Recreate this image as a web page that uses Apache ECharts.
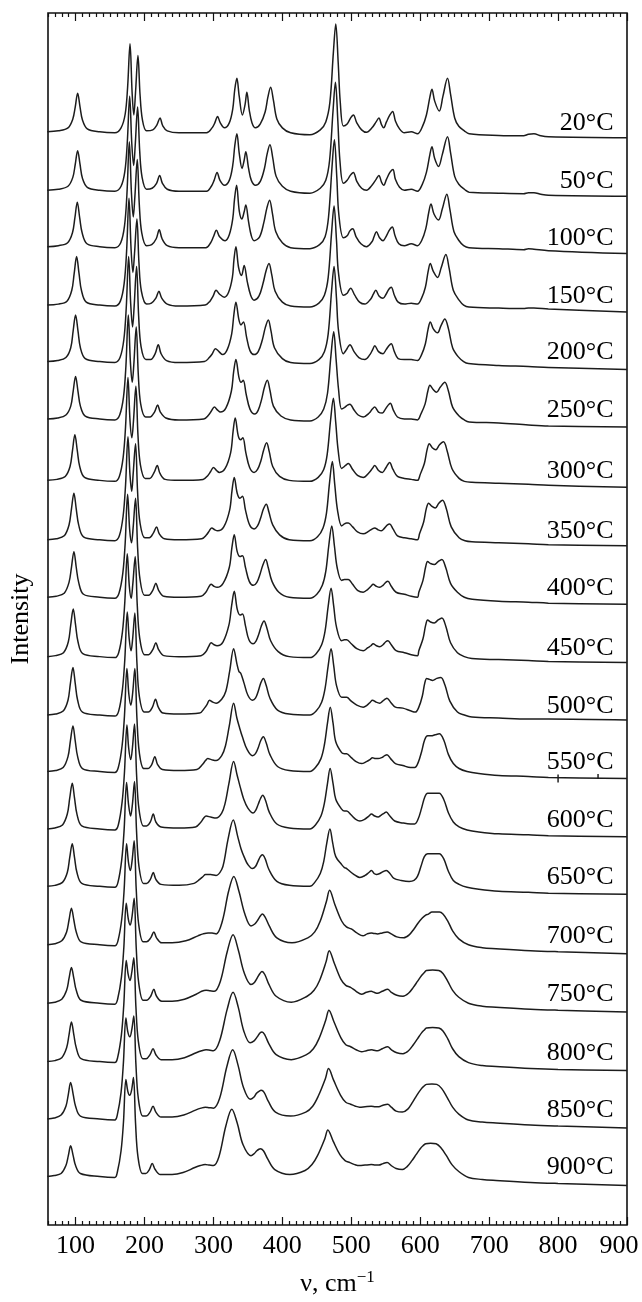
<!DOCTYPE html>
<html>
<head>
<meta charset="utf-8">
<script src="https://cdn.jsdelivr.net/npm/echarts@6/dist/echarts.min.js"></script>
<style>
  html, body { margin: 0; padding: 0; background: #fff; }
  #chart { width: 642px; height: 1302px; }
</style>
</head>
<body>
<div id="chart"></div>
<script>
// temperature of each spectrum, top to bottom
var temps = ['20°C', '50°C', '100°C', '150°C', '200°C', '250°C', '300°C', '350°C', '400°C', '450°C',
  '500°C', '550°C', '600°C', '650°C', '700°C', '750°C', '800°C', '850°C', '900°C'];
// baseline of each spectrum, pixel row
var baselines = [133, 192, 249, 308, 365, 423, 485, 545, 603, 663, 722, 779, 837, 895, 954, 1013, 1072, 1130, 1188];
var majorTicks = [100, 200, 300, 400, 500, 600, 700, 800, 900];
var strayTicks = [[800, 451, 8], [858, 453, 5]];

// [wavenumber, height above baseline]
var t20 = [[59,0],[75,1],[89,4],[96,13],[99.5,25],[103,39],[106.5,25],[110,12],[117,3],[135,0],[157,-1],
  [166,4],[172,18],[175.5,45],[179,89],[182,40],[184.5,17],[187,40],[190.5,77],[193.5,38],[197,12],[203,1],
  [212,2],[218,7],[222.5,14],[226.5,6],[233,1],[250,-1],[290,-1],
  [298,4],[302,9],[306,15.5],[310,9],[316,4],[323,9],[328,23],[331,43],[334,54],[337.4,36],[342,17],[346,28],[348.5,40],[352,22],[356,9],[361,4],[368,8],[375,20],[379,35],[383,45],[387,32],[392,13],[400,4],[412,-1],[440,-3],
  [455,2],[463,10],[469,30],[474,80],[477.5,109],[481,70],[484,30],[488.5,6],[494,8],[499,14],[503,17],[508,9],[515,2],[522,-0.5],[530,4],[536,10],[540,14],[544,7],[547,4],[551,10],[556,17],[560,20.6],[564,11],[570,3],[577,-1],[587,0],[596,-2],
  [603,5],[609,17],[614,35],[617,43],[621,31],[627.6,21],[633,36],[639.6,54],[644,38],[650,14],[656,5.6],[664,1],[671,-2],[714,-3.7],[750,-4],[757,-2.5],[765,-2],[775,-4],[786,-5],[900,-6]];
var t50 = [[59,0],[75,1],[89,4],[96,13],[99.5,26],[103,40],[106.5,26],[110,12],[117,3],[135,0],[157,-1],
  [166,4],[171.5,19],[175,48],[178.5,95],[181.5,48],[184.3,25],[186.5,45],[190,84],[193,40],[196.5,13],[203,1],
  [211,2],[217.5,7],[222,15],[226,7],[233,1],[250,-1],[290,-1],
  [297,4],[301,10],[305.3,18],[309.5,10],[316,5],[323,10],[328,25],[331,45],[334,57],[337.5,37],[341.5,22],[344.5,30],[347,39],[351,22],[355,10],[361,5],[368,9],[374,22],[378,37],[382,46],[386,33],[391,14],[400,4],[412,-1],[440,-3],
  [455,2],[463,10],[468.5,30],[473.5,80],[477,109],[480.5,70],[483.5,30],[488.5,7],[494,10],[498.5,15],[503,18],[508,9],[515,2],[522,0],[530,5],[536,11],[540,15],[544,8],[547,5],[551,11],[556,18],[560.4,21],[564,11],[570,3],[577,0],[587,1],[596,-1],
  [603,6],[609,18],[614,36],[617,44],[621,32],[626.6,24],[632,36],[639.6,54],[644,38],[650,14],[656,6],[664,1],[671,-2],[714,-3],[750,-3.5],[757,-2.5],[765,-2.5],[775,-4],[786,-5],[900,-6]];
var t100 = [[59,0],[75,1],[88.5,4],[95.5,14],[99,29],[102.5,45],[106,29],[109.5,14],[116.5,3],[135,0],[157,-1],
  [165.5,4],[171,21],[174.5,53],[178,106],[181,55],[183.7,30],[186,50],[189.5,88],[192.5,42],[196,14],[203,1],
  [210.5,2],[217,8],[221.4,17],[225.5,8],[233,1],[250,-1],[289,-1],
  [296,4],[300,10],[304.3,16.7],[309,10],[317,6],[323,12],[328,28],[330.6,48],[333.6,62],[337.5,36],[341.3,28],[344.5,35],[347,42],[351,25],[355,11],[359,6],[367,10],[373,24],[377.5,39],[381.5,47],[385.5,34],[390.5,15],[400,4],[412,-1],[440,-2],
  [454,2],[462,10],[467,30],[472,80],[475.5,108],[479,70],[482,32],[488.5,9],[494,11],[498,16],[502,18],[507,10],[514,3],[522,0],[530,5],[533,10],[536.4,15],[541,9],[546,6],[551,11],[555.5,17],[559.5,20],[563.5,11],[569,3],[577,1],[587,3],[596,1],
  [602,6],[608,18],[612.5,35],[615.6,43],[620,33],[626.6,27],[632,38],[638.6,53],[643,38],[649,15],[656.4,6],[663,1],[670.7,-1],[714,-2],[750,-3],[757,-2],[765,-2.5],[786,-4],[900,-7]];
var t150 = [[59,0],[75,1],[87.5,4],[94.5,15],[98,32],[101.5,49],[105,32],[108.5,15],[115.5,3],[135,0],[157,-1],
  [165,4],[170.5,22],[174,54],[177.5,108],[180.5,57],[183.2,33],[185.5,52],[189,87],[192,42],[195.5,14],[203,1],
  [210,2],[216.5,7],[220.9,14],[225,7],[233,1],[250,-1],[288,0],
  [295,4],[299.5,9],[303.8,15],[309,11],[315.8,8],[322,13],[327.5,28],[329.8,46],[332.6,59],[336.5,38],[340.8,30],[344.6,40],[349,24],[354,10],[359,5],[366,9],[372,22],[376.5,35],[380.6,42],[384.5,31],[389.5,14],[400,3],[412,-1],[440,-2],
  [453,2],[461,10],[466.5,28],[471.5,74],[475,100],[478.5,66],[481.5,32],[488.5,10],[494,12],[496.5,15],[499,17],[505,10],[512,3],[519.7,1],[528,6],[532,11],[535.5,15],[540.5,9],[546,7],[550.5,11],[554.5,16],[558,18],[562.5,10],[568,3],[577,1],[587,2],[596,1],
  [602,7],[607.5,18],[611.5,34],[614.6,42],[619,34],[625.2,28],[630.5,38],[637.2,51],[642,37],[648,15],[656.4,5],[663,0],[670.7,-2],[714,-3],[750,-3.5],[757,-3],[765,-3],[786,-4],[900,-7]];
var t200 = [[59,0],[74,1],[86,4],[93,14],[96.5,31],[100,47],[103.5,31],[107,14],[114,3],[135,0],[157,-1],
  [164.5,4],[170,22],[173.5,54],[177,106],[180,58],[182.7,35],[185,56],[188.5,96],[191.5,46],[195,15],[202,2],
  [209,2],[215.5,8],[220,17],[224,8],[232,1],[250,-1],[287,0],
  [294,4],[298.5,8],[302.9,13],[308,10],[313.4,7],[320,12],[326.5,28],[329.6,47],[332.6,60],[337,42],[340,37],[343.6,40],[348,25],[353,11],[359,7],[365,10],[371,22],[375.5,35],[379.6,42],[383.5,31],[388.5,14],[400,3],[412,-1],[440,-2],
  [453,2],[461,10],[466.5,28],[471.5,72],[475,96],[478.5,64],[481.5,31],[488.5,8],[493,12],[495.5,15],[498,17],[504,10],[511,4],[519.7,2],[527,7],[531,12],[534,16],[539.5,10],[546,8],[550.5,12],[554.5,16],[558,18],[562.5,10],[568,3],[577,2],[587,2],[596,1],
  [602,7],[607.5,18],[611.5,33],[614.6,40],[619,33],[625.2,29],[630,36],[635.7,43],[641,33],[647,14],[655,5],[663,0],[670,-2],[714,-4],[757,-5],[786,-6],[900,-8]];
var t250 = [[59,0],[74,1],[86,4],[93,13],[96.5,28],[100,43],[103.5,28],[107,13],[114,3],[135,0],[157,-1],
  [164,4],[169.5,22],[173,53],[176.5,105],[179.5,58],[182.2,37],[184.5,55],[188,93],[191,45],[194.5,15],[201.5,2],
  [208,2],[214.5,7],[219,14],[223,7],[231,1],[250,-1],[286,0],
  [293,4],[297,8],[301.4,12],[306,9],[310,7],[318,11],[326,28],[329.4,48],[332.6,60],[337,42],[340,37],[343.2,39],[347.5,25],[353,10],[359.9,5],[365,9],[370,20],[374,32],[378.2,39],[382,29],[387,13],[398,3],[412,-1],[440,-2],
  [452,2],[460,10],[465.5,26],[470.5,64],[474.5,88],[478,60],[481.5,30],[486,10],[491,12],[494.5,14],[498,15],[504,9],[510,4],[517.3,2],[526,6],[530.5,10],[534,12],[539.5,7],[545.1,6],[549.5,10],[553.5,14],[556.6,16],[561,9],[567,2],[577,0],[587,0],[596,-1],
  [601,5],[607,15],[611,28],[614.1,34],[618.5,30],[623.7,27],[629,32],[635.7,37],[641,28],[647,12],[656.4,3],[664,-1],[671,-3],[714,-4],[757,-6],[786,-7],[900,-8]];
var t300 = [[59,0],[73,1],[85,4],[92,14],[95.5,30],[99,46],[102.5,30],[106,14],[113,3],[135,0],[157,-1],
  [163.5,4],[169,23],[172.5,54],[176,104],[179,60],[181.7,43],[184,60],[187.5,95],[190.5,46],[194,16],[201,2],
  [207.5,2],[214,8],[218.5,15],[222.5,7],[230,1],[250,0],[285,1],
  [292,5],[296,9],[300,13],[304.5,10],[308.6,8],[317,12],[325,28],[328.6,50],[331.6,63],[336,45],[339.5,41],[342.7,43],[347,28],[352.5,13],[359,8],[364,11],[369,20],[373,31],[377.2,38],[381,29],[386,14],[396,4],[410,0],[440,-1],
  [452,3],[460,11],[465,26],[470,61],[474,83],[477.5,58],[481,30],[486,12],[490,14],[493,16],[495.7,17],[502,11],[509,5],[517.3,3],[526,8],[530.5,12],[534,15],[539.5,10],[545.1,8],[549.5,12],[553,16],[555.6,18],[560.5,11],[567,4],[577,2],[587,1],[596,0],
  [600,6],[606,17],[610,31],[613.2,37],[617.5,33],[622.8,31],[628,36],[633.8,39],[639,30],[646,12],[656.4,2],[664,-1],[675,-2],[714,-3],[757,-4],[786,-5],[900,-7]];
var t350 = [[59,0],[72,1],[83.5,4],[90.5,15],[94,31],[97.6,47],[101,31],[104.5,15],[111.5,3],[135,0],[157,-1],
  [163.5,4],[169,24],[172.5,55],[176,104],[179,65],[181.5,49],[183.5,66],[187,97],[190,48],[193.5,17],[200.5,2],
  [207,2],[213,7],[217.5,13],[221.5,6],[229,1],[250,0],[283,1],
  [290,5],[294,9],[297.6,12],[302,10],[306.2,9],[315,13],[323.5,30],[327,50],[330.2,63],[334.5,47],[338.5,42],[342.2,44],[346.5,30],[352.5,15],[359,11],[364,14],[368.5,22],[372.5,31],[376.7,36],[380.5,28],[386,15],[396,5],[410,0],[440,-1],
  [451,3],[459,12],[464,27],[468.5,58],[472.5,79],[476,56],[480,30],[486,14],[490,16],[493,17],[495.7,17],[502,13],[509,8],[517.3,6],[526,9],[530.5,11],[534,12],[539,10],[543.6,9],[548.5,12],[552.5,15],[555.6,16],[560.5,11],[567,4],[577,2],[587,1],[596,0],
  [599,6],[605,18],[609,32],[612.2,37],[616.5,34],[621.8,32],[627,37],[632.4,40],[638,31],[645,13],[656.4,2],[665,-1],[675,-2],[714,-3],[757,-4],[786,-5],[900,-6]];
var t400 = [[59,0],[72,1],[83.5,4],[90.5,15],[94,30],[97.6,46],[101,30],[104.5,15],[111.5,3],[135,0],[157,-1],
  [163,4],[168.5,24],[172,55],[175.5,104],[178.5,68],[181.2,55],[183.5,70],[187,100],[190,50],[193.5,18],[200,2],
  [206,2],[212,7],[216.5,14],[220.5,7],[228,1],[250,0],[282,1],
  [289,5],[293,10],[296.6,13],[301,11],[305.3,10],[314,14],[323,30],[326.8,50],[330.2,63],[334.5,46],[338.5,41],[342.2,42],[346.5,30],[352,16],[358,12],[363,15],[367.5,23],[371.5,32],[375.8,38],[379.5,30],[385,16],[395,5],[410,0],[440,-1],
  [450,3],[458,12],[463,26],[467.5,53],[471.7,72],[475.5,52],[479.5,30],[486,17],[490,18],[493,18],[495.7,18],[502,13],[509,7],[517.3,5],[524,8],[528.5,11],[531.7,13],[536.5,11],[541.2,10],[546,12],[550,15],[553.2,16],[558,11],[565,5],[577,3],[587,1],[596,0],
  [598,5],[604,17],[608,31],[610.8,36],[615,34],[620.4,33],[626,36],[631.4,38],[637,30],[644,14],[654,5],[664,0],[675.5,-2],[714,-4],[757,-5],[786,-6],[900,-7]];
var t450 = [[59,0],[71,1],[82.5,4],[89.5,15],[93,32],[96.6,48],[100,32],[103.5,15],[110.5,3],[135,0],[157,-1],
  [162.5,4],[168,25],[171.5,56],[175,104],[178,71],[180.7,59],[183,73],[186.5,101],[189.5,52],[193,19],[200,2],
  [206,2],[212,7],[216.5,14],[220.5,7],[228,1],[250,0],[282,1],
  [289,5],[293,10],[296.6,14],[301,12],[305.3,11],[314,15],[322.5,32],[326.5,52],[330.2,66],[334.5,48],[338.5,42],[342.2,43],[346.5,31],[351.5,17],[357.6,13],[362,16],[366,23],[369.5,31],[373.4,36],[377.5,29],[383,16],[394,5],[410,0],[440,-1],
  [449,3],[457,12],[462,26],[466.5,51],[470.7,69],[474.5,51],[478.5,30],[486,16],[490,17],[493.3,17],[500,13],[508,8],[517.3,6],[524,9],[528.5,11],[531.7,13],[536.5,11],[541.2,10],[546,12],[550,15],[553.2,16],[558,12],[565,6],[577,4],[587,2],[596,1],
  [598,6],[604,18],[608,32],[610.8,37],[615,35],[620.4,34],[626,37],[631.4,39],[637,31],[644,14],[654,4],[664,0],[675,-2],[714,-3],[757,-4],[786,-5],[900,-6]];
var t500 = [[59,0],[71,1],[82,4],[89,15],[92.5,32],[96.2,48],[99.5,32],[103,15],[110,3],[135,0],[157,-1],
  [162.5,4],[168,26],[171.5,57],[175,104],[177.8,77],[180.5,65],[182.8,77],[186,103],[189,53],[192.5,19],[199.5,3],
  [205.5,3],[211.5,8],[216,16],[220,8],[227,2],[250,1],[280,2],
  [287,7],[291,11],[294.2,15],[299,13],[303.8,12],[312,16],[318,24],[323.5,44],[329.3,67],[334,52],[337,44],[339.8,42],[344.5,32],[350,20],[356.6,15],[361,17],[365,24],[368.5,32],[372.4,37],[376.5,30],[382,17],[393,5],[410,1],[440,0],
  [449,4],[457,13],[462,27],[466.5,50],[470.7,67],[474.5,50],[478.5,30],[486,18],[490,18],[493.3,18],[500,14],[508,10],[517.3,8],[523,10],[527.5,13],[530.7,15],[536,13],[541.2,12],[545.5,14],[549,16],[551.8,17],[557,13],[564,8],[574.8,7],[587,4],[593,3],
  [598,8],[603,19],[606.5,32],[609.4,37],[613.5,36],[618,35],[624,37],[630,38],[636,30],[643,14],[654,3],[664,0],[675,-2],[714,-3],[757,-4],[786,-4],[900,-5]];
var t550 = [[59,0],[71,1],[82,4],[89,15],[92.5,31],[96.2,46],[99.5,31],[103,15],[110,3],[135,0],[157,-1],
  [162,4],[167.5,26],[171,57],[174.5,104],[177.3,78],[180.2,67],[182.8,79],[186,104],[189,54],[192.5,19],[199,3],
  [205,3],[210.5,7],[215,15],[219,7],[226,2],[250,1],[276,2],
  [284,7],[288.5,11],[291.8,13],[297,12],[303.8,11],[312,16],[317.5,26],[323,46],[329.3,69],[334,54],[338,44],[342,35],[349,22],[356.6,16],[361,18],[365,24],[368.5,31],[372.4,35],[376.5,29],[382,17],[393,5],[410,1],[440,0],
  [448,4],[456,13],[461,27],[465.5,49],[469.5,65],[473.5,49],[477.5,30],[486,19],[490,18],[493.3,18],[500,14],[507,10],[514.9,8],[522,10],[527,12],[530.7,14],[535,13],[538.8,13],[544,14],[548.5,16],[551.8,17],[557,13],[564,8],[574.8,6],[586,4],[592,4],
  [597,9],[602,20],[606.5,32],[610.8,36],[616,36],[621.5,37],[627.6,38],[634,32],[641,17],[648,8],[656.4,3],[668,0],[685,-2],[714,-4],[757,-5],[786,-6],[900,-7]];
var t600 = [[59,0],[70,1],[81,4],[88,15],[91.5,31],[95.2,46],[98.5,31],[102,15],[109,3],[135,0],[157,-1],
  [162,4],[167.5,27],[171,58],[174.5,105],[177,82],[180,70],[182.5,82],[185.5,106],[188.5,55],[192,20],[198.5,3],
  [203,3],[208.5,7],[212.7,15],[216.5,7],[224,2],[250,1],[274,2],
  [282,7],[286,11],[289.4,13],[296,12],[303.8,11],[312,16],[317,26],[322.5,46],[329.3,68],[334.5,54],[339,42],[344,30],[350,21],[357.6,16],[361.5,19],[365,25],[368.5,31],[371.5,34],[375.5,29],[381,17],[392,5],[410,1],[440,0],
  [448,4],[456,13],[461,26],[465.5,46],[469.3,61],[473.5,46],[477.5,30],[486,20],[490,18],[493.3,18],[500,14],[506,10],[512.5,8],[520,10],[525.5,13],[529.3,15],[534,13],[538.8,12],[543.5,14],[548,16],[550.8,17],[556,13],[563,8],[574.8,6],[586,5],[592,5],
  [597,10],[602,21],[606.5,32],[610.8,36],[616,36],[621.5,36],[627.6,36],[634,30],[641,16],[648,7],[656.4,2],[668,-1],[685,-3],[714,-5],[757,-6],[786,-7],[900,-8]];
var t650 = [[59,0],[70,1],[81,4],[88,14],[91.5,29],[95.2,43],[98.5,29],[102,14],[109,3],[135,0],[157,-1],
  [161.5,4],[167,27],[170.5,58],[174,105],[176.8,83],[179.8,71],[182.5,83],[185.5,106],[188.5,55],[192,20],[198.5,3],
  [203,3],[208.5,7],[212.7,14],[216.5,7],[224,2],[250,1],[272,3],
  [280,7],[285,10],[288.5,12],[296,12],[303.8,11],[312,17],[316,27],[321,47],[328.8,67],[335,51],[340,38],[345,29],[350,22],[356.6,18],[361,20],[364.5,25],[368,30],[371,32],[375,28],[380.5,17],[392,5],[410,1],[440,0],
  [447,4],[455,13],[460,25],[464.5,44],[469,58],[473,44],[477.5,30],[486,22],[490,19],[493.3,18],[500,14],[506,11],[512.5,9],[520,11],[525.5,14],[529.3,16],[533,13],[536.4,12],[541.5,13],[546.5,15],[550.8,16],[556,13],[562,8],[572.4,6],[584,5],[591,6],
  [596,10],[601,20],[606,30],[610.8,33],[616,33],[621.5,33],[627.6,33],[634,28],[641,15],[648,6],[656.4,2],[668,-1],[685,-3],[714,-5],[757,-6],[786,-7],[900,-8]];
var t700 = [[59,0],[70,1],[80,4],[87,13],[90.5,25],[94,37],[97.5,25],[101,13],[108,3],[135,0],[157,-1],
  [161.5,4],[167,26],[170.5,56],[174,102],[176.8,83],[179.5,75],[182,85],[185,105],[188,56],[191.5,21],[198,3],
  [203,3],[209,7],[213.6,13],[217.5,7],[225,2],[240,2],[260,4],[277.5,9],
  [285,11],[292.3,12],[298,12],[304,11],[313,24],[322,54],[329.6,69],[337,54],[345.6,31],[354.5,19],[360,21],[364.5,25],[368,29],[371,31],[375,28],[381,19],[392,7],[414,2],
  [437,7],[447,13],[455,24],[464,44],[468.5,55],[476,41],[486,24],[493,18],[500,16],[508,12],[517,9],[523,11],[529,12],[533,11.5],[538,11],[545,12],[552,13],[558,11],[566,8],[576,7],
  [584,10],[591,16],[597,22],[603,27],[608,30],[612,31],[617,33],[628,33],[633,31],[640,24],[647,14],[656,6],[670,0],[690,-3],[710,-4],[760,-6],[800,-7],[900,-9]];
var t750 = [[59,0],[70,1],[80,4],[87,13],[90.5,25],[94,36],[97.5,25],[101,13],[108,3],[135,0],[157,-1],
  [161,4],[166.5,26],[170,56],[173.5,101],[176.5,85],[179.3,79],[182,88],[185,106],[188,56],[191.5,21],[198,3],
  [203,3],[209,7],[213.5,14],[217.5,7],[225,2],[240,2],[258,4],[275,9],
  [283,12],[289.4,13],[295,12.5],[301.2,12],[310,22],[320,52],[328.5,69],[336,54],[344.5,31],[354.5,19],[359.5,21],[364,26],[367.5,30],[370.5,32],[374.5,29],[380.5,19],[391,7],[413,1],
  [436,7],[446,13],[454,23],[463.5,42],[468,53],[475.5,40],[485,24],[492,18],[499,16],[507,12],[515,9],[522,11],[529,12],[533,11],[538,10],[545,12],[552.8,14],[558,11],[566,8],[575,7],
  [583,10],[590,16],[596,22],[602,28],[606,31],[609,33],[618,33.5],[627,33],[633,30],[640,22],[647,13],[656,6],[670,0],[690,-3],[710,-4],[760,-6],[800,-7],[900,-9]];
var t800 = [[59,0],[70,1],[80,4],[87,14],[90.5,27],[94,40],[97.5,27],[101,14],[108,3],[135,0],[157,-1],
  [161,4],[166.5,27],[170,58],[173.5,102],[176.3,88],[179,82],[181.5,90],[184.5,105],[187.5,56],[191,21],[197.5,3],
  [202.5,3],[208,7],[212.4,13],[216.5,7],[224,2],[240,2],[258,4],[275,9],
  [283,11],[289.4,12],[295,11.5],[300,11],[309,21],[320,53],[328.5,70],[336,55],[344,31],[353.3,19],[359,21],[363.5,25],[367.5,29],[370.5,30],[374.5,27],[380.5,18],[391,7],[413,2],
  [435,7],[445,13],[453,23],[463,42],[467.5,52],[475,40],[485,24],[492,17],[499,15],[507,12],[515,10],[522,11],[529,12],[533,11.5],[538,11],[545,13],[552.8,15],[558,12],[566,9],[575,8],
  [583,11],[590,17],[596,23],[602,29],[606,32],[609,34],[618,34.5],[627,34],[633,31],[640,23],[647,13],[656,5],[670,-1],[690,-4],[710,-5],[760,-7],[800,-8],[900,-9]];
var t850 = [[59,0],[69,1],[79,4],[86,13],[89.5,25],[92.8,37],[96.5,25],[100,13],[107,3],[135,0],[157,-1],
  [160.5,4],[166,27],[169.5,58],[173,102],[175.8,88],[178.8,83],[181.5,90],[184.5,104],[187.5,56],[191,21],[197.5,3],
  [202.5,3],[208,7],[212.4,13],[216.5,7],[224,2],[240,2],[257,4],[274,9],
  [282,11],[288.2,12],[294,11.5],[300,11],[309,21],[319.5,53],[328,70],[335.5,55],[343.5,32],[353.3,20],[358.5,22],[362.5,26],[366,28],[369.3,29],[373.5,27],[379.5,18],[390,7],[412,3],
  [434,7],[444,13],[452,23],[462.5,41],[467,51],[474.5,39],[484.5,24],[492,17],[499,15],[506,13],[512,12],[520,12.5],[529,13],[535,12.5],[540,12.5],[546,14],[552.8,15],[558,12],[565,8],[574,7],
  [582,10],[589,17],[595,24],[601,30],[605,33],[609,35],[617,35.5],[624,35],[631,31],[639,22],[647,12],[656,5],[670,-1],[690,-3],[710,-4],[760,-6],[800,-7],[900,-9]];
var t900 = [[59,0],[69,1],[79,3],[86,11],[89.5,21],[92.8,31],[96.5,21],[100,11],[107,3],[135,0],[157,-1],
  [160.5,4],[166,26],[169.5,55],[173,98],[175.8,86],[178.5,82],[181.2,87],[184,100],[187,54],[190.5,20],[197,3],
  [202,3],[207,7],[211.2,13],[215.5,7],[223,2],[240,2],[256,4],[273,9],
  [281,11],[288,12],[294,11.5],[300,11],[308,20],[318,51],[326.7,68],[334.5,54],[343,32],[354.5,21],[359,23],[363,26],[366,27.5],[368,28],[372.5,26],[378.5,18],[389,7],[411,2],
  [433,6],[443,12],[451,21],[461.5,38],[466,47],[473.5,36],[483.5,22],[491,16],[498,14],[505,12],[512,11],[520,11.5],[529,12],[535,11.5],[540,11.5],[546,13],[552,14],[558,11],[565,8],[574,7],
  [581,10],[588,16],[594,22],[600,28],[604,31],[608,33],[615,33.5],[623,33],[630,29],[638,21],[646,12],[656,5],[670,-1],[690,-3],[710,-4],[760,-6],[800,-7],[900,-9]];

var traces = [t20, t50, t100, t150, t200, t250, t300, t350, t400, t450,
  t500, t550, t600, t650, t700, t750, t800, t850, t900];

var plotBottom = 1237;   // pixel row of the lower frame
var plotHeight = 1224;
var font = "'Liberation Serif', 'Times New Roman', serif";

var minorTicks = [];
for (var v = 60; v <= 900; v += 10) {
  if (v % 100 !== 0) minorTicks.push(v);
}

var series = traces.map(function (pts, i) {
  var off = plotBottom - baselines[i];
  return {
    name: temps[i],
    type: 'line',
    smooth: 0.35,
    symbol: 'none',
    silent: true,
    lineStyle: {color: '#1c1c1c', width: 1.5},
    data: pts.map(function (p) {
      return [p[0], p[1] + off];
    })
  };
});

// temperature captions (scatter defaults to 0.8 opacity, which would grey the text)
series.push({
  type: 'scatter',
  symbolSize: 0,
  silent: true,
  itemStyle: {color: '#000', opacity: 1},
  data: temps.map(function (t, i) {
    return {name: t, value: [880.5, plotBottom - baselines[i] + 9]};
  }),
  label: {
    show: true,
    position: 'left',
    distance: 0,
    formatter: '{b}',
    color: '#000',
    opacity: 1,
    textBorderWidth: 0,
    fontSize: 26,
    fontFamily: font
  }
});

// two stray tick marks on the 550 °C trace
series.push({
  type: 'scatter',
  silent: true,
  symbol: 'rect',
  symbolSize: function (val) { return [1.5, val[2]]; },
  itemStyle: {color: '#222', opacity: 1},
  data: strayTicks
});

var chart = echarts.init(document.getElementById('chart'), null, {renderer: 'canvas'});

function tickAxis(pos, values, len, labels) {
  return {
    type: 'value',
    position: pos,
    min: 60,
    max: 900,
    axisLine: {show: false},
    splitLine: {show: false},
    axisTick: {show: true, inside: true, length: len, customValues: values,
      lineStyle: {color: '#111', width: 1.2}},
    axisLabel: labels ? {
      show: true,
      customValues: values,
      margin: 8,
      color: '#000',
      fontSize: 26,
      fontFamily: font,
      formatter: function (val) {
        return val === 900 ? '{r|900}' : String(val);
      },
      rich: {r: {fontSize: 26, fontFamily: font, color: '#000', padding: [0, 16, 0, 0]}}
    } : {show: false}
  };
}

var bottomMajor = tickAxis('bottom', majorTicks, 8, true);
bottomMajor.name = '{a|ν, cm}{b|−1}';
bottomMajor.nameLocation = 'middle';
bottomMajor.nameGap = 44;
bottomMajor.nameTextStyle = {
  rich: {
    a: {fontSize: 26, fontFamily: font, color: '#000', lineHeight: 30},
    b: {fontSize: 17, fontFamily: font, color: '#000', verticalAlign: 'top', lineHeight: 18}
  }
};

chart.setOption({
  animation: false,
  backgroundColor: '#fff',
  grid: {
    left: 42, right: 15, top: 13, bottom: 65,
    show: true,
    borderColor: '#111',
    borderWidth: 1.6
  },
  xAxis: [
    bottomMajor,
    tickAxis('bottom', minorTicks, 4, false),
    tickAxis('top', majorTicks, 8, false),
    tickAxis('top', minorTicks, 4, false)
  ],
  yAxis: {
    type: 'value',
    min: 0,
    max: plotHeight,
    axisLine: {show: false},
    axisTick: {show: false},
    axisLabel: {show: false},
    splitLine: {show: false},
    name: 'Intensity',
    nameLocation: 'middle',
    nameRotate: 90,
    nameGap: 14,
    nameTextStyle: {fontSize: 26, fontFamily: font, color: '#000'}
  },
  series: series
});
</script>
</body>
</html>
